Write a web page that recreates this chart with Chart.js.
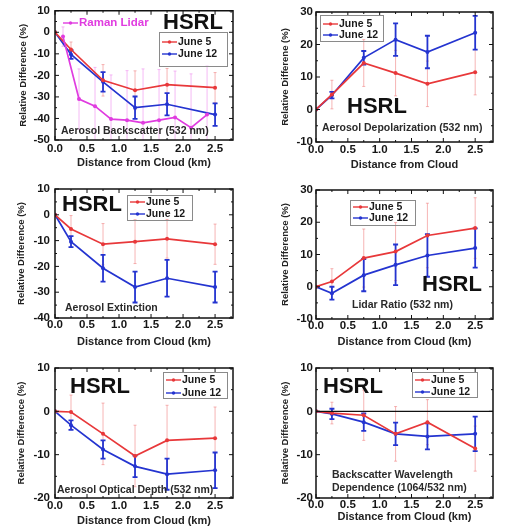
<!DOCTYPE html>
<html>
<head>
<meta charset="utf-8">
<script src="https://cdn.jsdelivr.net/npm/chart.js@4.4.0/dist/chart.umd.min.js"></script>
<style>
  body { margin: 0; background: #fff; }
  #lienzo { position: relative; width: 505px; height: 529px; overflow: hidden; }
  canvas { position: absolute; }
</style>
</head>
<body>
<div id="lienzo">
  <canvas id="p1" width="250" height="175" style="left:0;top:0"></canvas>
  <canvas id="p2" width="250" height="175" style="left:255px;top:0"></canvas>
  <canvas id="p3" width="250" height="177" style="left:0;top:175px"></canvas>
  <canvas id="p4" width="250" height="177" style="left:255px;top:175px"></canvas>
  <canvas id="p5" width="250" height="177" style="left:0;top:352px"></canvas>
  <canvas id="p6" width="250" height="177" style="left:255px;top:352px"></canvas>
</div>
<script>
// Distancias (km) y ticks comunes
const distancia = [0, 0.25, 0.75, 1.25, 1.75, 2.5];
const distanciaRaman = [0.125, 0.375, 0.625, 0.875, 1.125, 1.375, 1.625, 1.875, 2.125, 2.375];
const xTicks = [0, 0.5, 1, 1.5, 2, 2.5];

// Aerosol Backscatter (532 nm)
const backJun5 = [0, -8, -22.3, -26.9, -24.3, -25.7];
const backJun5Err = [0, 3.5, 7.3, 9, 7.5, 7];
const backJun12 = [0, -10.3, -23, -35, -33.4, -38.2];
const backJun12Err = [0, 2, 4.5, 5.2, 5.2, 5.2];
const backRaman = [-2, -31, -34.3, -40.3, -40.8, -42, -40.8, -39.5, -44.3, -38.2];
const backRamanErr = [4.5, 14, 18, 20.5, 23, 25, 23.5, 21.5, 25, 22.5];
const backTicks = [-50, -40, -30, -20, -10, 0, 10];

// Aerosol Depolarization (532 nm)
const depolJun5 = [0, 4.6, 14.3, 11.2, 7.9, 11.5];
const depolJun5Err = [0, 4.4, 7.2, 7, 7, 7];
const depolJun12 = [0, 4.4, 15.9, 21.5, 17.7, 23.6];
const depolJun12Err = [0, 1, 2.1, 5, 5, 5.2];
const depolTicks = [-10, 0, 10, 20, 30];

// Aerosol Extinction
const extJun5 = [0, -5.5, -11.4, -10.4, -9.3, -11.4];
const extJun5Err = [0, 5.2, 8, 8.5, 7.5, 7.8];
const extJun12 = [0, -10.4, -20.7, -28, -24.6, -28];
const extJun12Err = [0, 2.1, 5.2, 6, 7.1, 6];
const extTicks = [-40, -30, -20, -10, 0, 10];

// Lidar Ratio (532 nm)
const lidarJun5 = [0, 1.6, 8.9, 10.9, 15.9, 18.2];
const lidarJun5Err = [0, 4, 9, 9, 10, 9.4];
const lidarJun12 = [0, -2, 3.6, 6.8, 9.7, 12];
const lidarJun12Err = [0, 2, 5, 6.3, 6.6, 6.1];
const lidarTicks = [-10, 0, 10, 20, 30];

// Aerosol Optical Depth (532 nm)
const aodJun5 = [0, -0.15, -5.2, -10.3, -6.7, -6.2];
const aodJun5Err = [0, 3.9, 7.1, 7.1, 8.1, 7.2];
const aodJun12 = [0, -3.2, -8.8, -12.7, -14.5, -13.6];
const aodJun12Err = [0, 1.1, 2.1, 2.5, 3.6, 4.1];
const aodTicks = [-20, -10, 0, 10];

// Backscatter Wavelength Dependence (1064/532 nm)
const wlJun5 = [0, -0.4, -0.9, -5.2, -2.5, -8.6];
const wlJun5Err = [0, 2.5, 5.8, 6.3, 5.2, 5.2];
const wlJun12 = [0, -0.6, -2.5, -5.2, -5.8, -5.2];
const wlJun12Err = [0, 1.2, 2, 2.6, 3, 4];
const wlTicks = [-20, -10, 0, 10];

const FUENTE = '"Liberation Sans", Arial, sans-serif';
const ROJO = '#e8383a';
const AZUL = '#2434d0';
const MAGENTA = '#e03ce0';

//Barras de error (se dibujan detrás de las líneas)
const barrasErrorPlugin = {
    id: 'barrasError',
    beforeDatasetsDraw(chart) {
        const {ctx, chartArea: a, scales: {x, y}} = chart;
        ctx.save();
        ctx.beginPath();
        ctx.rect(a.left, a.top, a.right - a.left, a.bottom - a.top);
        ctx.clip();
        chart.data.datasets.forEach(ds => {
            if (!ds.errores) return;
            ctx.strokeStyle = ds.errorColor;
            ctx.lineWidth = ds.errorAncho;
            ds.data.forEach((p, i) => {
                const e = ds.errores[i];
                if (!e) return;
                const px = x.getPixelForValue(p.x);
                const arriba = y.getPixelForValue(p.y + e);
                const abajo = y.getPixelForValue(p.y - e);
                const c = ds.errorTapa;
                ctx.beginPath();
                ctx.moveTo(px, arriba); ctx.lineTo(px, abajo);
                ctx.moveTo(px - c, arriba); ctx.lineTo(px + c, arriba);
                ctx.moveTo(px - c, abajo); ctx.lineTo(px + c, abajo);
                ctx.stroke();
            });
        });
        ctx.restore();
    }
};

//Marco con ticks hacia adentro en los cuatro lados
const marcoPlugin = {
    id: 'marco',
    afterDatasetsDraw(chart, args, opts) {
        const {ctx, chartArea: a, scales: {x, y}} = chart;
        ctx.save();
        ctx.strokeStyle = '#111';
        if (opts.lineaCero) {
            ctx.lineWidth = 1.3;
            const y0 = y.getPixelForValue(0);
            ctx.beginPath(); ctx.moveTo(a.left, y0); ctx.lineTo(a.right, y0); ctx.stroke();
        }
        ctx.lineWidth = 1;
        const xt = opts.xTicks, yt = opts.yTicks;
        const xMenores = xt.map(v => v + (xt[1] - xt[0]) / 2).filter(v => v < x.max);
        const yMenores = yt.slice(0, -1).map(v => v + (yt[1] - yt[0]) / 2);
        ctx.beginPath();
        xt.forEach(v => {
            const px = x.getPixelForValue(v);
            ctx.moveTo(px, a.bottom); ctx.lineTo(px, a.bottom - 4);
            ctx.moveTo(px, a.top); ctx.lineTo(px, a.top + 4);
        });
        xMenores.forEach(v => {
            const px = x.getPixelForValue(v);
            ctx.moveTo(px, a.bottom); ctx.lineTo(px, a.bottom - 2);
            ctx.moveTo(px, a.top); ctx.lineTo(px, a.top + 2);
        });
        yt.forEach(v => {
            const py = y.getPixelForValue(v);
            ctx.moveTo(a.left, py); ctx.lineTo(a.left + 4, py);
            ctx.moveTo(a.right, py); ctx.lineTo(a.right - 4, py);
        });
        yMenores.forEach(v => {
            const py = y.getPixelForValue(v);
            ctx.moveTo(a.left, py); ctx.lineTo(a.left + 2, py);
            ctx.moveTo(a.right, py); ctx.lineTo(a.right - 2, py);
        });
        ctx.stroke();
        ctx.lineWidth = 1.5;
        ctx.strokeRect(a.left, a.top, a.right - a.left, a.bottom - a.top);
        ctx.restore();
    }
};

//Textos: HSRL, leyenda en caja, leyenda Raman y rótulos
const notasPlugin = {
    id: 'notas',
    afterDraw(chart, args, n) {
        const ctx = chart.ctx;
        ctx.save();
        ctx.textBaseline = 'middle';
        //HSRL
        ctx.fillStyle = '#111';
        ctx.font = 'bold 22px ' + FUENTE;
        ctx.textAlign = 'center';
        ctx.fillText('HSRL', n.hsrl.x, n.hsrl.y);
        //Caja de leyenda
        const c = n.caja;
        ctx.strokeStyle = '#8a8a8a';
        ctx.lineWidth = 1;
        ctx.strokeRect(c.x + 0.5, c.y + 0.5, c.w, c.h);
        ctx.textAlign = 'left';
        ctx.font = 'bold 10.5px ' + FUENTE;
        const enCaja = chart.data.datasets.filter(ds => ds.enCaja);
        enCaja.forEach((ds, i) => {
            const fy = c.filas[i];
            marcador(ctx, c.x + 3, fy, 15, ds.borderColor);
            ctx.fillStyle = '#1a1a1a';
            ctx.fillText(ds.label, c.x + 19, fy);
        });
        //Leyenda Raman Lidar
        if (n.raman) {
            const ds = chart.data.datasets.find(d => !d.enCaja);
            marcador(ctx, n.raman.x, n.raman.y, 15, ds.borderColor);
            ctx.fillStyle = ds.borderColor;
            ctx.font = 'bold 11.5px ' + FUENTE;
            ctx.fillText(ds.label, n.raman.x + 16, n.raman.y);
        }
        //Rótulos
        ctx.fillStyle = '#2a2a2a';
        ctx.font = 'bold 10.5px ' + FUENTE;
        n.textos.forEach(t => ctx.fillText(t.t, t.x, t.y));
        ctx.restore();
    }
};

function marcador(ctx, x, y, largo, color) {
    ctx.strokeStyle = color;
    ctx.fillStyle = color;
    ctx.lineWidth = 1.4;
    ctx.beginPath(); ctx.moveTo(x, y); ctx.lineTo(x + largo, y); ctx.stroke();
    ctx.beginPath(); ctx.arc(x + largo / 2, y, 1.7, 0, Math.PI * 2); ctx.fill();
}

function serie(label, xs, ys, errs, color, esAzul) {
    return {
        label: label,
        data: xs.map((v, i) => ({x: v, y: ys[i]})),
        errores: errs,
        borderColor: color,
        backgroundColor: color,
        borderWidth: 1.7,
        pointRadius: 2,
        pointBorderWidth: 0,
        tension: 0,
        enCaja: label !== 'Raman Lidar',
        errorColor: esAzul ? color : (label === 'Raman Lidar' ? 'rgba(238,140,238,0.6)' : 'rgba(238,120,120,0.55)'),
        errorAncho: esAzul ? 1.8 : 1,
        errorTapa: esAzul ? 2.5 : 1.5
    };
}

function crearPanel(id, cfg) {
    const canvas = document.getElementById(id);
    const W = canvas.width, H = canvas.height;
    const a = cfg.area;
    const fuenteTicks = {family: FUENTE, weight: 'bold', size: 11.5, lineHeight: 1};
    new Chart(canvas, {
        type: 'line',
        data: {datasets: cfg.series},
        options: {
            responsive: false,
            animation: false,
            layout: {padding: {top: a.top, right: W - a.right, left: 0, bottom: 0}},
            plugins: {
                legend: {display: false},
                tooltip: {enabled: false},
                marco: {xTicks: xTicks, yTicks: cfg.yTicks, lineaCero: cfg.lineaCero},
                notas: cfg.notas
            },
            scales: {
                x: {
                    type: 'linear',
                    min: 0,
                    max: 2.78,
                    grid: {display: false, drawTicks: false},
                    border: {display: false},
                    afterBuildTicks: s => { s.ticks = xTicks.map(v => ({value: v})); },
                    afterFit: s => { s.height = H - a.bottom; },
                    ticks: {
                        autoSkip: false, maxRotation: 0, padding: cfg.xTickPad,
                        color: '#151515', font: fuenteTicks,
                        callback: v => v.toFixed(1)
                    },
                    title: {
                        display: true, text: cfg.xTitulo, color: '#222',
                        font: {family: FUENTE, weight: 'bold', size: 11, lineHeight: 1.2},
                        padding: {top: 0, bottom: cfg.xTituloPad}
                    }
                },
                y: {
                    min: cfg.yTicks[0],
                    max: cfg.yTicks[cfg.yTicks.length - 1],
                    grid: {display: false, drawTicks: false},
                    border: {display: false},
                    afterBuildTicks: s => { s.ticks = cfg.yTicks.map(v => ({value: v})); },
                    afterFit: s => { s.width = a.left; },
                    ticks: {
                        autoSkip: false, padding: cfg.yTickPad,
                        color: '#151515', font: fuenteTicks,
                        callback: v => String(v)
                    },
                    title: {
                        display: true, text: cfg.yTitulo, color: '#222',
                        font: {family: FUENTE, weight: 'bold', size: 9.5, lineHeight: 1.2},
                        padding: {top: cfg.yTituloPad, bottom: 0}
                    }
                }
            }
        },
        plugins: [barrasErrorPlugin, marcoPlugin, notasPlugin]
    });
}

document.addEventListener('DOMContentLoaded', function() {
    const tituloY = 'Relative Difference (%)';
    const tituloX = 'Distance from Cloud (km)';

    crearPanel('p1', {
        area: {left: 55, right: 233, top: 10, bottom: 140},
        yTicks: backTicks, xTickPad: 3, yTickPad: 5, xTituloPad: 5, yTituloPad: 18,
        xTitulo: tituloX, yTitulo: tituloY,
        series: [
            serie('Raman Lidar', distanciaRaman, backRaman, backRamanErr, MAGENTA, false),
            serie('June 5', distancia, backJun5, backJun5Err, ROJO, false),
            serie('June 12', distancia, backJun12, backJun12Err, AZUL, true)
        ],
        notas: {
            hsrl: {x: 193, y: 23},
            caja: {x: 159, y: 32, w: 68, h: 34, filas: [42, 54]},
            raman: {x: 63, y: 23},
            textos: [{t: 'Aerosol Backscatter (532 nm)', x: 61, y: 131}]
        }
    });

    crearPanel('p2', {
        area: {left: 61, right: 238, top: 12, bottom: 142},
        yTicks: depolTicks, xTickPad: 2, yTickPad: 3, xTituloPad: 3, yTituloPad: 25,
        xTitulo: 'Distance from Cloud', yTitulo: 'Relative Differene (%)',
        series: [
            serie('June 5', distancia, depolJun5, depolJun5Err, ROJO, false),
            serie('June 12', distancia, depolJun12, depolJun12Err, AZUL, true)
        ],
        notas: {
            hsrl: {x: 122, y: 107},
            caja: {x: 65, y: 15, w: 63, h: 26, filas: [24, 35]},
            textos: [{t: 'Aerosol Depolarization (532 nm)', x: 67, y: 128}]
        }
    });

    crearPanel('p3', {
        area: {left: 55, right: 233, top: 14, bottom: 143},
        yTicks: extTicks, xTickPad: 1, yTickPad: 5, xTituloPad: 3, yTituloPad: 16,
        xTitulo: tituloX, yTitulo: tituloY,
        series: [
            serie('June 5', distancia, extJun5, extJun5Err, ROJO, false),
            serie('June 12', distancia, extJun12, extJun12Err, AZUL, true)
        ],
        notas: {
            hsrl: {x: 92, y: 30},
            caja: {x: 127, y: 20, w: 65, h: 25, filas: [27, 39]},
            textos: [{t: 'Aerosol Extinction', x: 65, y: 133}]
        }
    });

    crearPanel('p4', {
        area: {left: 61, right: 238, top: 15, bottom: 144},
        yTicks: lidarTicks, xTickPad: 1, yTickPad: 3, xTituloPad: 3, yTituloPad: 25,
        xTitulo: tituloX, yTitulo: tituloY,
        series: [
            serie('June 5', distancia, lidarJun5, lidarJun5Err, ROJO, false),
            serie('June 12', distancia, lidarJun12, lidarJun12Err, AZUL, true)
        ],
        notas: {
            hsrl: {x: 197, y: 110},
            caja: {x: 95, y: 25, w: 65, h: 25, filas: [32, 43]},
            textos: [{t: 'Lidar Ratio (532 nm)', x: 97, y: 130}]
        }
    });

    crearPanel('p5', {
        area: {left: 55, right: 233, top: 16, bottom: 146},
        yTicks: aodTicks, xTickPad: 2, yTickPad: 5, xTituloPad: 1, yTituloPad: 16,
        xTitulo: tituloX, yTitulo: tituloY,
        series: [
            serie('June 5', distancia, aodJun5, aodJun5Err, ROJO, false),
            serie('June 12', distancia, aodJun12, aodJun12Err, AZUL, true)
        ],
        notas: {
            hsrl: {x: 100, y: 35},
            caja: {x: 163, y: 20, w: 64, h: 26, filas: [28, 41]},
            textos: [{t: 'Aerosol Optical Depth (532 nm)', x: 57, y: 138}]
        }
    });

    crearPanel('p6', {
        area: {left: 61, right: 238, top: 16, bottom: 146},
        yTicks: wlTicks, xTickPad: 1, yTickPad: 3, xTituloPad: 5, yTituloPad: 25,
        xTitulo: tituloX, yTitulo: tituloY, lineaCero: true,
        series: [
            serie('June 5', distancia, wlJun5, wlJun5Err, ROJO, false),
            serie('June 12', distancia, wlJun12, wlJun12Err, AZUL, true)
        ],
        notas: {
            hsrl: {x: 98, y: 35},
            caja: {x: 157, y: 20, w: 65, h: 25, filas: [28, 40]},
            textos: [
                {t: 'Backscatter Wavelength', x: 77, y: 123},
                {t: 'Dependence (1064/532 nm)', x: 77, y: 136}
            ]
        }
    });
});
</script>
</body>
</html>
